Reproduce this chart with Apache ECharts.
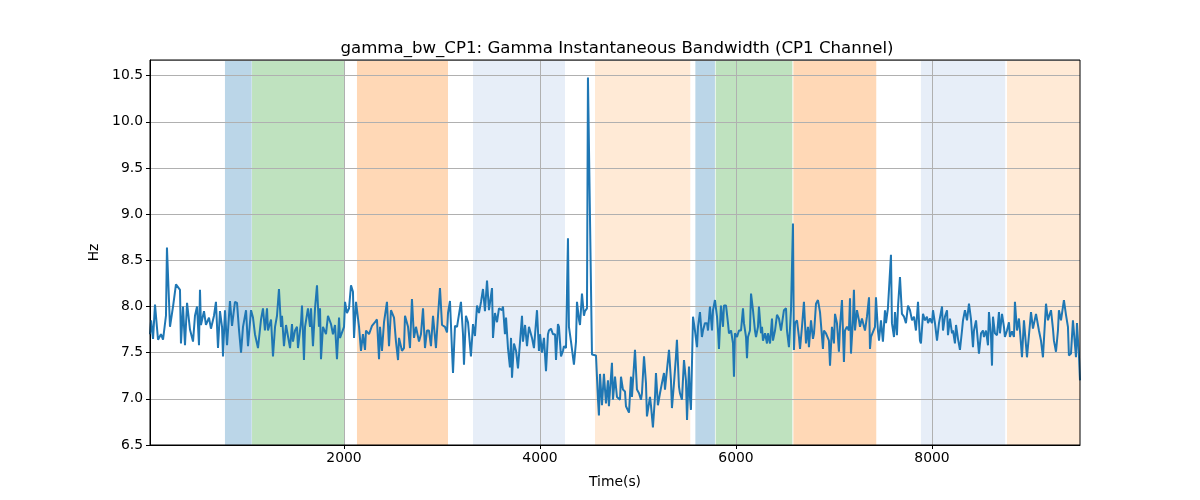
<!DOCTYPE html>
<html>
<head>
<meta charset="utf-8">
<script src="https://cdn.jsdelivr.net/npm/echarts@6/dist/echarts.min.js"></script>
<style>html,body{margin:0;padding:0;background:#fff}#c{width:1200px;height:500px}</style>
</head>
<body>
<div id="c"></div>
<script>
const chartTitle = 'gamma_bw_CP1: Gamma Instantaneous Bandwidth (CP1 Channel)';
const xName = 'Time(s)';
const yName = 'Hz';
const xTicks = [2000, 4000, 6000, 8000];
const xRange = [20, 9510];
const yRange = [6.5, 10.67];

// [time (s), bandwidth (Hz)]
const gammaBw = [
[20,7.7],[31,7.85],[51,7.65],[71,8.02],[102,7.64],[132,7.7],[153,7.64],[183,7.9],[193,8.64],[224,7.78],[255,8.0],[285,8.24],[326,8.18],[336,7.6],[357,8.0],[377,7.58],[398,8.04],[428,7.75],[459,7.62],[479,7.9],[500,8.0],[520,7.58],[530,8.18],[540,7.8],[571,7.95],[591,7.8],[622,7.88],[642,7.76],[673,7.9],[693,8.05],[714,7.55],[734,7.95],[755,7.78],[765,7.46],[785,7.96],[806,7.58],[836,8.06],[857,7.79],[887,8.05],[908,8.04],[928,7.75],[949,7.5],[969,7.78],
[1000,7.96],[1020,7.57],[1051,7.96],[1071,7.88],[1091,7.7],[1122,7.55],[1153,7.86],[1173,7.98],[1193,7.74],[1214,7.98],[1224,7.74],[1255,7.86],[1275,7.46],[1296,7.78],[1316,7.9],[1336,8.19],[1357,7.78],[1367,7.9],[1387,7.57],[1408,7.8],[1428,7.81],[1449,7.55],[1469,7.81],[1479,7.62],[1500,7.74],[1520,7.78],[1530,7.55],[1561,7.83],[1571,8.01],[1591,7.42],[1602,7.78],[1632,7.98],[1653,7.78],[1663,7.98],[1683,7.57],[1704,7.98],[1724,8.23],[1744,7.78],[1755,7.98],[1765,7.43],[1785,7.78],[1816,7.7],[1836,7.9],[1867,7.81],[1887,7.7],[1908,7.8],
[1928,7.43],[1949,7.88],[1959,7.66],[2000,7.78],[2010,8.05],[2030,7.93],[2051,7.98],[2071,8.23],[2091,8.16],[2102,7.66],[2122,8.05],[2153,7.78],[2173,7.52],[2193,7.7],[2214,7.53],[2224,7.74],[2255,7.7],[2285,7.79],[2316,7.83],[2336,7.86],[2357,7.43],[2367,7.78],[2387,7.52],[2408,7.83],[2438,8.05],[2459,7.57],[2479,7.96],[2510,7.88],[2530,7.62],[2551,7.42],[2561,7.66],[2591,7.52],[2612,7.55],[2622,7.9],[2653,7.78],[2673,7.55],[2693,8.08],[2714,7.66],[2734,7.78],[2765,7.62],[2785,7.7],[2806,7.98],[2826,7.55],[2846,7.74],
[2867,7.74],[2887,7.57],[2908,7.9],[2938,7.55],[2959,7.9],[2979,8.2],[3000,7.8],[3030,7.78],[3051,7.72],[3061,7.93],[3081,8.06],[3102,7.52],[3112,7.28],[3132,7.79],[3153,7.78],[3173,7.8],[3193,8.05],[3214,7.7],[3224,7.37],[3244,7.9],[3265,7.83],[3295,7.46],[3316,7.81],[3336,7.68],[3357,8.01],[3377,7.93],[3398,8.05],[3418,8.19],[3438,7.95],[3459,8.28],[3479,7.96],[3510,8.2],[3520,7.66],[3540,7.93],[3561,7.83],[3581,7.98],[3612,7.96],[3622,8.0],[3642,7.7],[3653,7.88],[3673,7.55],[3693,7.34],[3704,7.66],[3714,7.23],[3734,7.6],[3755,7.52],[3775,7.33],[3796,7.62],
[3816,7.9],[3826,7.62],[3847,7.8],[3867,7.57],[3887,7.78],[3918,7.66],[3938,7.55],[3969,7.96],[3989,7.52],[4000,7.7],[4020,7.5],[4040,7.66],[4061,7.3],[4081,7.7],[4091,7.74],[4112,7.76],[4132,7.7],[4153,7.7],[4163,7.42],[4183,7.81],[4193,7.78],[4214,7.46],[4234,7.52],[4244,7.57],[4265,7.55],[4285,8.74],[4295,7.78],[4316,7.62],[4336,7.64],[4346,7.37],[4367,7.62],[4377,8.05],[4397,7.86],[4408,7.8],[4428,8.14],[4448,7.9],[4459,7.95],[4479,7.98],[4489,10.48],[4530,7.48],[4571,7.47],
[4591,7.0],[4601,6.82],[4612,7.27],[4632,6.93],[4652,7.27],[4673,6.95],[4693,7.2],[4703,6.92],[4714,7.09],[4734,7.39],[4744,6.99],[4765,7.24],[4785,7.02],[4816,6.99],[4826,7.24],[4846,7.1],[4867,7.08],[4877,6.92],[4908,6.85],[4928,7.24],[4938,7.02],[4969,7.53],[4989,7.1],[5010,7.06],[5030,6.99],[5040,7.06],[5061,7.46],[5081,7.17],[5091,6.81],[5122,7.02],[5132,6.93],[5152,6.69],[5173,7.02],[5183,7.28],[5203,6.93],[5224,7.06],[5244,7.17],[5265,7.28],[5275,7.1],[5295,7.31],[5316,7.53],[5336,7.2],[5346,6.9],[5367,7.17],[5387,7.46],[5397,7.64],[5418,7.13],[5428,7.06],[5448,6.99],[5469,7.42],[5489,7.2],[5500,6.77],[5520,7.35],[5530,7.02],[5540,6.88],[5550,6.87],
[5561,7.89],[5581,7.74],[5602,7.56],[5612,7.78],[5632,7.94],[5652,7.67],[5663,7.74],[5683,7.82],[5704,7.82],[5714,7.74],[5734,8.0],[5755,7.74],[5765,7.96],[5785,8.07],[5806,7.89],[5816,7.74],[5826,7.54],[5846,8.01],[5867,7.78],[5877,8.01],[5898,8.01],[5918,7.82],[5928,7.71],[5949,7.74],[5969,7.6],[5979,7.24],[5989,7.71],[6010,7.67],[6030,7.74],[6051,7.74],[6071,7.98],[6081,7.82],[6102,7.67],[6112,7.44],[6122,7.67],[6142,7.74],[6153,8.14],[6173,7.96],[6193,7.74],[6204,7.67],[6224,7.78],[6234,8.0],[6255,7.71],[6265,7.78],[6275,7.63],[6296,7.71],[6316,7.6],[6326,7.71],[6347,7.6],[6367,7.87],[6377,7.63],[6398,7.74],[6418,7.91],[6438,7.87],[6459,7.74],[6479,7.74],[6489,7.96],[6510,7.98],[6520,7.74],[6540,7.56],[6561,7.96],[6581,8.9],
[6591,7.53],[6602,7.82],[6622,7.85],[6642,7.67],[6653,7.54],[6673,7.78],[6693,8.05],[6714,7.6],[6734,7.78],[6744,7.56],[6765,7.85],[6785,7.65],[6796,7.71],[6816,8.03],[6836,8.07],[6857,7.94],[6867,7.96],[6887,7.54],[6897,7.74],[6918,7.71],[6948,7.63],[6959,7.36],[6979,7.78],[6999,7.6],[7010,7.92],[7030,7.82],[7050,7.51],[7061,7.78],[7081,8.07],[7101,7.4],[7112,7.74],[7132,7.78],[7152,7.74],[7163,8.09],[7173,7.49],[7193,7.85],[7203,8.18],[7214,7.74],[7234,7.96],[7255,7.85],[7265,7.78],[7285,7.87],[7306,7.78],[7316,7.74],[7336,7.89],[7357,8.1],[7367,7.54],[7377,7.67],[7397,7.67],[7418,7.78],[7428,8.1],[7448,7.74],
[7459,7.63],[7479,7.85],[7499,7.62],[7520,7.96],[7530,7.82],[7550,7.98],[7561,8.0],[7581,8.56],[7591,7.82],[7612,7.67],[7622,7.94],[7642,7.69],[7653,8.0],[7673,8.32],[7693,7.92],[7714,7.89],[7734,7.82],[7755,8.01],[7775,7.96],[7796,7.85],[7816,7.89],[7836,7.74],[7857,8.05],[7877,7.63],[7887,7.6],[7908,7.92],[7928,7.85],[7948,7.89],[7959,7.82],[7979,7.87],[8000,7.82],[8010,7.96],[8030,7.82],[8051,7.63],[8071,7.82],[8102,8.0],[8112,7.74],[8132,7.89],[8153,7.96],[8163,7.69],[8183,7.87],[8204,7.71],[8214,7.74],[8234,7.6],[8245,7.8],[8265,7.65],[8285,7.53],[8306,7.74],[8316,7.85],[8336,7.96],[8357,7.85],[8377,8.03],[8397,7.87],
[8418,7.56],[8428,7.74],[8449,7.85],[8469,7.85],[8479,7.49],[8500,7.71],[8520,7.74],[8530,7.67],[8551,7.74],[8571,7.58],[8581,7.94],[8602,7.67],[8612,7.36],[8622,7.89],[8642,7.71],[8663,7.69],[8683,7.94],[8693,7.71],[8714,7.92],[8734,7.78],[8744,7.67],[8765,7.74],[8785,7.83],[8795,7.67],[8816,7.73],[8836,7.67],[8846,8.05],[8867,7.74],[8887,7.87],[8897,7.74],[8918,7.45],[8938,7.85],[8949,7.87],[8969,7.45],[8989,7.45],[9010,7.94],[9030,7.76],[9040,7.78],[9061,7.92],[9081,7.91],[9091,7.74],[9112,7.63],[9132,7.45],[9163,8.03],[9183,7.85],[9193,7.89],[9214,7.96],[9234,7.76],[9244,7.63],[9265,7.51],[9285,7.74],[9295,7.96],[9316,7.85],[9346,8.07],[9367,7.91],[9387,7.78],[9397,7.47],[9418,7.49],[9438,7.85],[9449,7.87],[9469,7.45],[9479,7.82],[9500,7.45],[9510,7.2]
];

// shaded phases: [start (s), end (s)]
const spanStarts = [785, 1061, 2132, 3316, 4561, 5585, 5792, 6585, 7887, 8765];
const spanEnds   = [1058, 2003, 3061, 4255, 5533, 5785, 6575, 7431, 8747, 9510];
const spanKinds  = ['blue', 'green', 'orange', 'lightblue', 'lightorange', 'blue', 'green', 'orange', 'lightblue', 'lightorange'];

const spanColors = {
  blue: 'rgba(31,119,180,0.3)',
  green: 'rgba(44,160,44,0.3)',
  orange: 'rgba(255,127,14,0.3)',
  lightblue: 'rgba(174,199,232,0.3)',
  lightorange: 'rgba(255,187,120,0.3)'
};

const spanData = spanStarts.map((s, i) => [s, spanEnds[i], 7]);
const FONT = 'DejaVu Sans';

const chart = echarts.init(document.getElementById('c'), null, {renderer: 'canvas'});
chart.setOption({
  animation: false,
  backgroundColor: '#fff',
  title: {
    text: chartTitle, left: 612, top: 35, textAlign: 'center',
    textStyle: {fontFamily: FONT, fontSize: 16.6, fontWeight: 'normal', color: '#000'}
  },
  grid: {left: 150, right: 120, top: 60, bottom: 55, show: true, borderColor: '#000', borderWidth: 1, backgroundColor: 'transparent', z: 5},
  xAxis: {
    type: 'value', min: xRange[0], max: xRange[1], z: 3,
    name: xName, nameLocation: 'middle', nameGap: 30,
    nameTextStyle: {fontFamily: FONT, fontSize: 13.9, color: '#000'},
    axisLine: {show: true, lineStyle: {color: '#000', width: 1}},
    axisTick: {show: true, length: 4, lineStyle: {color: '#000'}, customValues: xTicks},
    axisLabel: {fontFamily: FONT, fontSize: 13.9, color: '#000', margin: 6, customValues: xTicks,
      formatter: v => String(v)},
    splitLine: {show: true, lineStyle: {color: '#b0b0b0', width: 1}}
  },
  yAxis: {
    type: 'value', min: yRange[0], max: yRange[1], interval: 0.5, z: 3,
    name: yName, nameLocation: 'middle', nameGap: 44,
    nameTextStyle: {fontFamily: FONT, fontSize: 13.9, color: '#000'},
    axisLine: {show: true, lineStyle: {color: '#000', width: 1}},
    axisTick: {show: true, length: 4, lineStyle: {color: '#000'}},
    axisLabel: {fontFamily: FONT, fontSize: 13.9, color: '#000', margin: 7, showMaxLabel: false,
      formatter: v => v.toFixed(1)},
    splitLine: {show: true, lineStyle: {color: '#b0b0b0', width: 1}}
  },
  series: [
    {
      type: 'custom', z: 1, silent: true,
      data: spanData,
      encode: {x: [0, 1], y: 2},
      renderItem: function (params, api) {
        const a = api.coord([api.value(0), api.value(2)]);
        const b = api.coord([api.value(1), api.value(2)]);
        const cs = params.coordSys;
        return {
          type: 'rect',
          shape: {x: a[0], y: cs.y, width: b[0] - a[0], height: cs.height},
          style: {fill: spanColors[spanKinds[params.dataIndex]]}
        };
      }
    },
    {
      type: 'line', z: 4, data: gammaBw, showSymbol: false, symbol: 'none',
      lineStyle: {color: '#1f77b4', width: 2}, itemStyle: {color: '#1f77b4'}
    }
  ]
});
</script>
</body>
</html>
